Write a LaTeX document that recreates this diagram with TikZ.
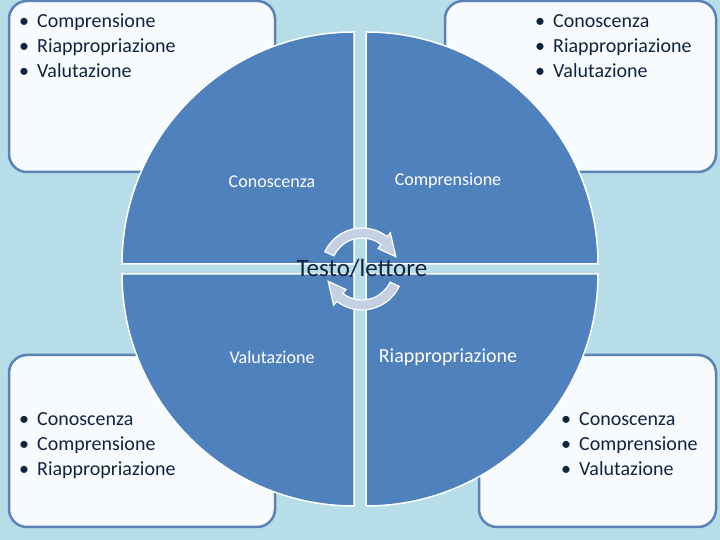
\documentclass[tikz,border=0pt]{standalone}
\usepackage{fontspec}
\setmainfont{Carlito}
\definecolor{sfondo}{HTML}{B7DDE8}
\definecolor{carta}{HTML}{F8FBFD}
\definecolor{bordo}{HTML}{5A82B5}
\definecolor{quarto}{HTML}{4F81BD}
\definecolor{inchiostro}{HTML}{10243F}
\definecolor{giro}{HTML}{C5D0E2}
\newcommand{\voce}[1]{\makebox[18pt][l]{\textbullet}#1}

\begin{document}
\begin{tikzpicture}[x=1pt,y=1pt,
  riquadro/.style={draw=bordo,fill=carta,line width=2.5pt,rounded corners=18pt},
  settore/.style={draw=white,fill=quarto,line width=1.5pt},
  elenco/.style={anchor=base west,inner sep=0pt,text=inchiostro,font=\fontsize{20}{25}\selectfont},
  etichetta/.style={text=white,inner sep=0pt,font=\fontsize{18}{22}\selectfont},
  freccia/.style={draw=white,fill=giro,line width=1.2pt}]
\useasboundingbox (0,0) rectangle (720,540);
\fill[sfondo] (0,0) rectangle (720,540);
% riquadri agli angoli
\draw[riquadro] (9,368) rectangle (275,539);
\draw[riquadro] (445,368) rectangle (716,539);
\draw[riquadro] (9,13) rectangle (275,185);
\draw[riquadro] (479,13) rectangle (716,185);
\draw (19,512) node (listaA) [elenco] {\begin{tabular}[t]{@{}l@{}}\voce{Comprensione}\\\voce{Riappropriazione}\\\voce{Valutazione}\end{tabular}};
\draw (535,512) node (listaB) [elenco] {\begin{tabular}[t]{@{}l@{}}\voce{Conoscenza}\\\voce{Riappropriazione}\\\voce{Valutazione}\end{tabular}};
\draw (19,114) node (listaC) [elenco] {\begin{tabular}[t]{@{}l@{}}\voce{Conoscenza}\\\voce{Comprensione}\\\voce{Riappropriazione}\end{tabular}};
\draw (561,114) node (listaD) [elenco] {\begin{tabular}[t]{@{}l@{}}\voce{Conoscenza}\\\voce{Comprensione}\\\voce{Valutazione}\end{tabular}};
% i quattro quarti
\draw[settore] (354,276) -- (122,276) arc (180:90:232) -- cycle;
\draw[settore] (366,276) -- (366,508) arc (90:0:232) -- cycle;
\draw[settore] (354,266) -- (354,34) arc (270:180:232) -- cycle;
\draw[settore] (366,266) -- (598,266) arc (0:-90:232) -- cycle;
\draw (272,358) node (quartoA) [etichetta] {Conoscenza};
\draw (448,359) node (quartoB) [etichetta] {Comprensione};
\draw (272,183) node (quartoC) [etichetta] {Valutazione};
\draw (448,183) node (quartoD) [etichetta,font=\fontsize{20}{24}\selectfont] {Riappropriazione};
% frecce circolari
\begin{scope}[shift={(362,271)}]
\draw[freccia] (155:41) arc (155:52:41) -- (52:46) -- (20:36) -- (52:26) -- (52:31) arc (52:155:31) -- cycle;
\draw[freccia] (-25:41) arc (-25:-128:41) -- (-128:46) -- (-160:36) -- (-128:26) -- (-128:31) arc (-128:-25:31) -- cycle;
\end{scope}
\draw (362,272) node (centro) [text=inchiostro,font=\fontsize{25}{29}\selectfont] {Testo/lettore};
\end{tikzpicture}
\end{document}
